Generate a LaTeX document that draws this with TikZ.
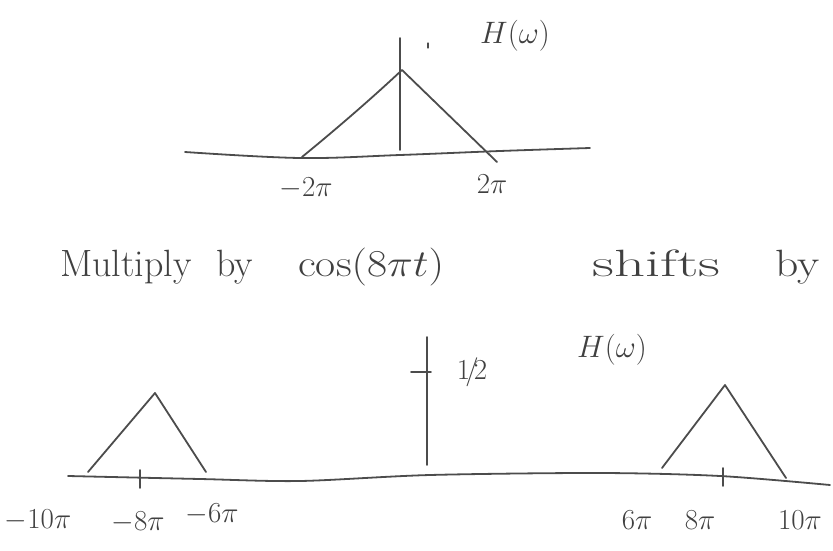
\RequirePackage{fix-cm}
\documentclass[tikz,border=0pt]{standalone}
\usepackage{fontspec}
\begin{document}
\begin{tikzpicture}[x=1pt,y=-1pt,
  pencil/.style={draw=black!70,line width=1.8pt,line cap=round,line join=round},
  lbl/.style={text=black!75,font=\fontsize{29}{33}\selectfont,inner sep=0pt},
  hw/.style={text=black!75,font=\fontsize{31}{35}\selectfont,inner sep=0pt},
  big/.style={text=black!75,font=\fontsize{38}{44}\selectfont,inner sep=0pt,anchor=base west}]
\useasboundingbox (0,0) rectangle (833,551);
% ---------- top plot ----------
\draw[pencil] plot[smooth,tension=0.6] coordinates {(185,152) (300,158) (400,155) (500,151) (590,148)};
\coordinate (vtop) at (400,38);
\coordinate (vbot) at (400,150);
\draw[pencil] (vtop) -- (vbot);
\coordinate (tl) at (302,157);
\coordinate (tp) at (402,70);
\coordinate (tr) at (497,162);
\draw[pencil] (tl) .. controls (335,130) and (370,100) .. (tp) -- (tr);
\draw[pencil,line width=1.2pt] (428,43) -- (428,48);
\node[hw] (h1) at (515,36) {$H(\omega)$};
\node[lbl] (m2p) at (306,188) {$-2\pi$};
\node[lbl] (p2p) at (492,184) {$2\pi$};
% ---------- sentence ----------
\node[big] (t1) at (60,276) {Multiply};
\node[big] (t2) at (216,276) {by};
\node[big,xscale=1.15,transform shape] (t3) at (298,276) {cos$(8\pi t)$};
\node[big,xscale=1.6,transform shape] (t4) at (592,276) {shifts};
\node[big,xscale=1.2,transform shape] (t5) at (775,276) {by};
% ---------- bottom plot ----------
\draw[pencil] plot[smooth,tension=0.5] coordinates {(68,476) (200,479) (300,481) (430,475) (600,473) (720,476) (830,485)};
\coordinate (btop) at (427,337);
\coordinate (bbot) at (427,465);
\draw[pencil] (btop) -- (bbot);
\draw[pencil] (411,372) -- (431,372);
\node[lbl] (half) at (472,372) {$1\!/\!2$};
\node[hw] (h2) at (612,350) {$H(\omega)$};
% left triangle
\coordinate (l1) at (88,472);
\coordinate (l2) at (155,393);
\coordinate (l3) at (206,472);
\draw[pencil] (l1) -- (l2) -- (l3);
\draw[pencil] (140,470) -- (140,488);
% right triangle
\coordinate (r1) at (662,468);
\coordinate (r2) at (725,385);
\coordinate (r3) at (786,478);
\draw[pencil] (r1) -- (r2) -- (r3);
\draw[pencil] (723,468) -- (723,486);
% labels
\node[lbl] (m10) at (38,520) {$-10\pi$};
\node[lbl] (m8) at (138,522) {$-8\pi$};
\node[lbl] (m6) at (212,514) {$-6\pi$};
\node[lbl] (p6) at (637,520) {$6\pi$};
\node[lbl] (p8) at (700,520) {$8\pi$};
\node[lbl] (p10) at (800,520) {$10\pi$};
\end{tikzpicture}
\end{document}
